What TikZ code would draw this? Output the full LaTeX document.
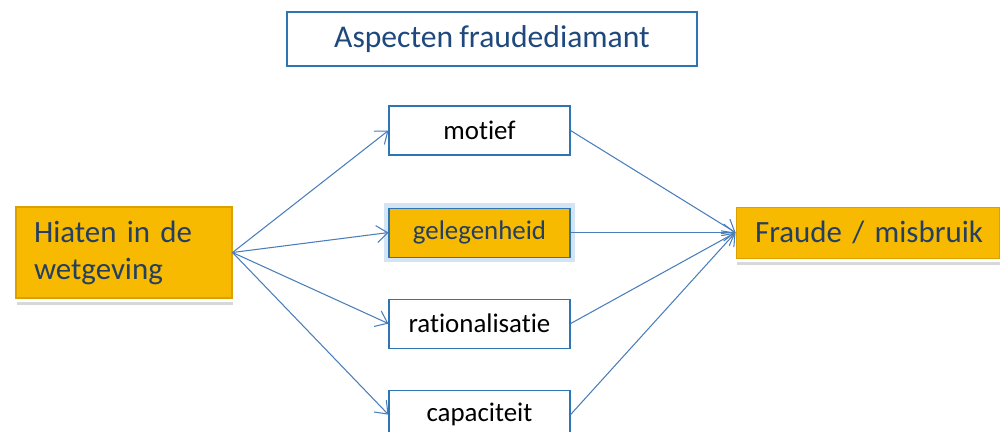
\documentclass[tikz,border=0pt]{standalone}
\usepackage{fontspec}
\setmainfont{Carlito}[Ligatures=NoCommon,WordSpace=0.85]
\usepackage{tikz}
\usetikzlibrary{arrows.meta,positioning,shadows}
\definecolor{boxline}{HTML}{2E75B6}
\definecolor{arrowline}{HTML}{4A7EBB}
\definecolor{gold}{HTML}{F7BA00}
\definecolor{golddark}{HTML}{D9A000}
\definecolor{navytext}{HTML}{243F60}
\definecolor{titletext}{HTML}{1F497D}
\definecolor{glow}{HTML}{9DC3E6}

\begin{document}
\begin{tikzpicture}[>={Straight Barb[length=2.2mm,width=3.4mm]},line width=0.6pt,node distance=0.82cm]
    \tikzstyle{tbox}=[draw=boxline,fill=white,minimum width=8.2cm,minimum height=1.08cm,text=titletext,font=\fontsize{18}{21}\selectfont]
    \tikzstyle{wbox}=[draw=boxline,fill=white,minimum width=3.62cm,minimum height=0.98cm,font=\fontsize{15.3}{18}\selectfont]
    \tikzstyle{obox}=[fill=gold,draw=golddark,text=navytext,drop shadow={shadow xshift=0.02cm,shadow yshift=-0.14cm,fill=black!30,opacity=0.5},preaction={draw=white,line width=0.16cm},align=left,font=\fontsize{17.6}{21}\selectfont]
    \tikzstyle{arr}=[->,draw=arrowline]
    \useasboundingbox (0,0) rectangle (20,-8.64);
    \node[tbox] (title) at (9.84,-0.78) {Aspecten fraudediamant};
    % de vier aspecten
    \node[wbox] (motief) at (9.59,-2.61) {motief};
    \node[wbox,fill=gold,text=navytext,preaction={draw=glow,line width=0.2cm,opacity=0.45},below=1.04cm of motief] (geleg) {gelegenheid};
    \node[wbox,below=of geleg] (ratio) {rationalisatie};
    \node[wbox,below=of ratio] (capac) {capaciteit};
    % oorzaak en gevolg
    \node[obox,text width=3.6cm,inner xsep=0.36cm,minimum height=1.82cm] (hiaten) at (2.48,-5.05) {Hiaten in de\\wetgeving};
    \node[obox,text width=4.9cm,inner xsep=0.18cm,minimum height=1.02cm,right=3.3cm of geleg] (fraude) {\hspace*{0.2cm}Fraude / misbruik};
    \draw[arr] (hiaten.east) -- (motief.west);
    \draw[arr] (hiaten.east) -- (geleg.west);
    \draw[arr] (hiaten.east) -- (ratio.west);
    \draw[arr] (hiaten.east) -- (capac.west);
    \draw[arr] (motief.east) -- (fraude.west);
    \draw[arr] (geleg.east) -- (fraude.west);
    \draw[arr] (ratio.east) -- (fraude.west);
    \draw[arr] (capac.east) -- (fraude.west);
  \end{tikzpicture}
\end{document}
